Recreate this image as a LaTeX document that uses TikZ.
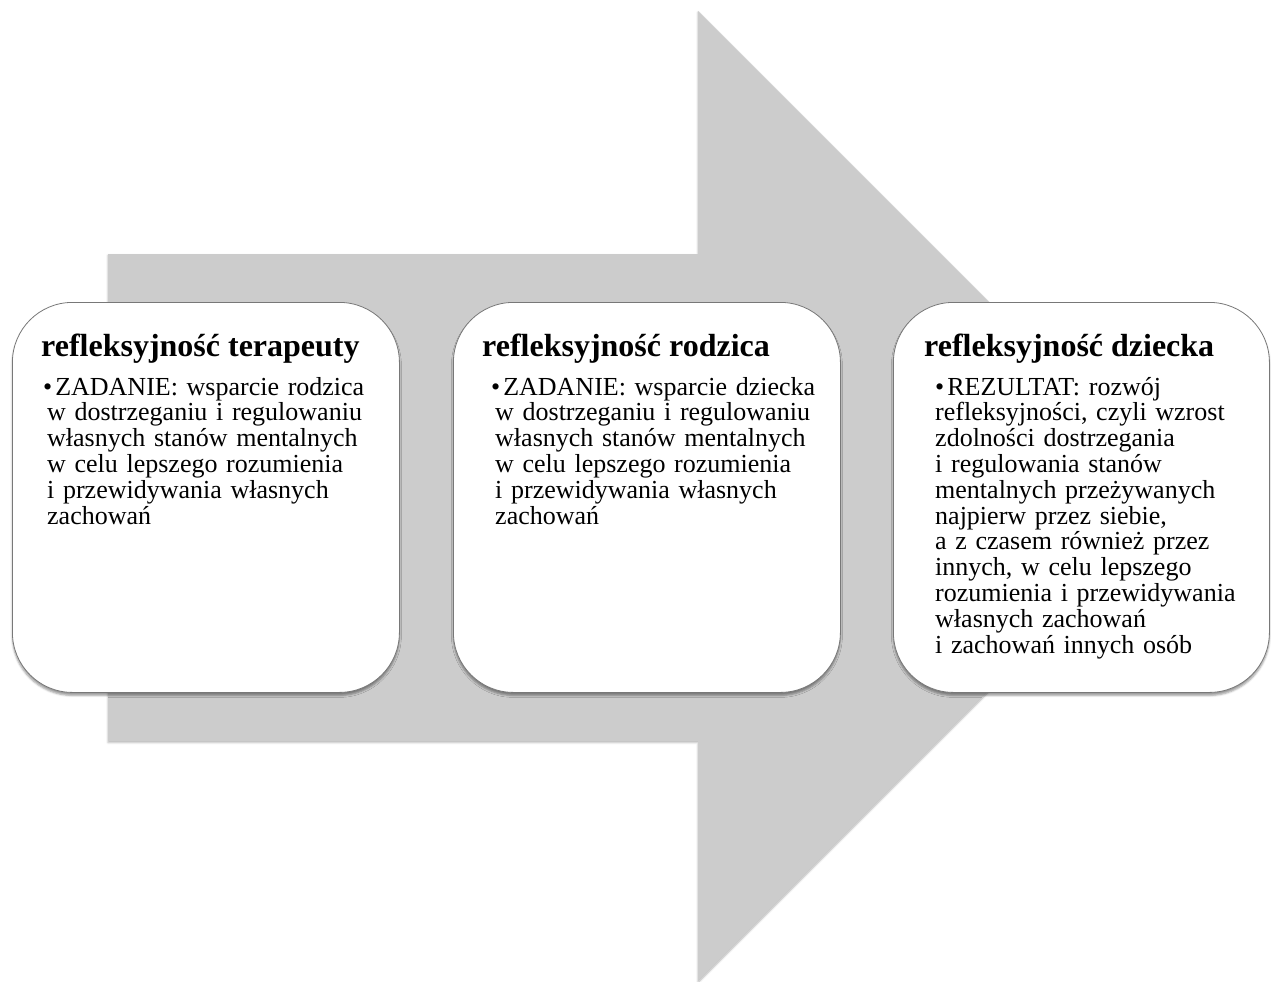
\documentclass[tikz,border=0pt]{standalone}
\usepackage{fontspec}
\setmainfont{Liberation Serif}
\usetikzlibrary{positioning,calc,shadows.blur}

\definecolor{szaryStrzalka}{RGB}{204,204,204}
\definecolor{szaryRamka}{RGB}{120,120,120}

\newcommand{\punkt}{\textbullet\hspace{3pt}}

\begin{document}
\begin{tikzpicture}[x=1pt,y=-1pt,
	ramka/.style={draw=szaryRamka, line width=0.8pt, fill=white, rounded corners=60pt,
		minimum height=390pt, inner sep=0pt, anchor=north west,
		blur shadow={shadow xshift=0pt, shadow yshift=-3pt, shadow blur radius=2pt, shadow opacity=40}},
	tytul/.style={anchor=base west, inner sep=0pt, font=\fontsize{32}{34}\selectfont\bfseries},
	opis/.style={anchor=base west, inner sep=0pt, align=left, text width=340pt,
		font=\fontsize{26}{25.8}\selectfont}]
	%Definitions - page and arrow%
	%===========================================================
	\def \Szer {1271} % page width in px
	\def \Wys {982} % page height in px
	\def \Trzon {108} % left end of the arrow shaft
	\def \Grot {698} % where the arrow head starts
	\def \Szpic {1183} % tip of the arrow
	\useasboundingbox (0,0) rectangle (\Szer,\Wys);
	
	%% Big grey arrow in the back%
	\fill[szaryStrzalka, blur shadow={shadow xshift=0pt, shadow yshift=-1.5pt, shadow blur radius=2pt, shadow opacity=30}]
		(\Trzon,254) -- (\Grot,254) -- (\Grot,11) -- (\Szpic,496) -- (\Grot,981) -- (\Grot,741) -- (\Trzon,741) -- cycle;
	
	%% The three rounded boxes%
	\node[ramka, minimum width=387pt] (terapeuta) at (12,302) {};
	\node[ramka, minimum width=387pt] (rodzic) at (453,302) {};
	\node[ramka, minimum width=376pt] (dziecko) at (893,302) {};
	
	%Titles%
	\node[tytul] (terapeutaTytul) at ($(terapeuta.north west)+(29,54)$) {refleksyjność terapeuty};
	\node[tytul] (rodzicTytul) at ($(rodzic.north west)+(29,54)$) {refleksyjność rodzica};
	\node[tytul] (dzieckoTytul) at ($(dziecko.north west)+(31,54)$) {refleksyjność dziecka};
	
	%Bullet text under the titles%
	\node[opis] (terapeutaOpis) at ($(terapeuta.north west)+(31,93)$) {\punkt ZADANIE: wsparcie rodzica\\
		\hspace*{4pt}w dostrzeganiu i regulowaniu\\
		\hspace*{4pt}własnych stanów mentalnych\\
		\hspace*{4pt}w celu lepszego rozumienia\\
		\hspace*{4pt}i przewidywania własnych\\
		\hspace*{4pt}zachowań};
	\node[opis] (rodzicOpis) at ($(rodzic.north west)+(38,93)$) {\punkt ZADANIE: wsparcie dziecka\\
		\hspace*{4pt}w dostrzeganiu i regulowaniu\\
		\hspace*{4pt}własnych stanów mentalnych\\
		\hspace*{4pt}w celu lepszego rozumienia\\
		\hspace*{4pt}i przewidywania własnych\\
		\hspace*{4pt}zachowań};
	\node[opis] (dzieckoOpis) at ($(dziecko.north west)+(42,93)$) {\punkt REZULTAT: rozwój\\
		refleksyjności, czyli wzrost\\
		zdolności dostrzegania\\
		i regulowania stanów\\
		mentalnych przeżywanych\\
		najpierw przez siebie,\\
		a z czasem również przez\\
		innych, w celu lepszego\\
		rozumienia i przewidywania\\
		własnych zachowań\\
		i zachowań innych osób};
\end{tikzpicture}
\end{document}
